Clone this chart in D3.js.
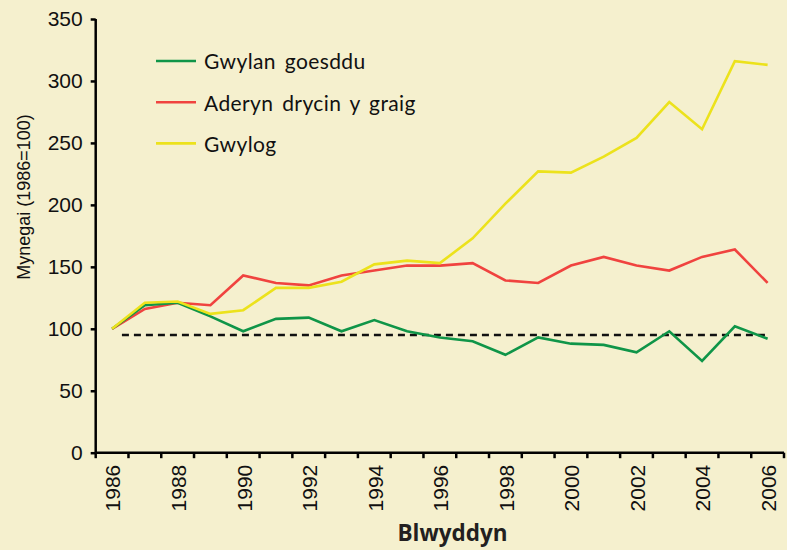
<!DOCTYPE html>
<html><head><meta charset="utf-8">
<script src="https://cdn.jsdelivr.net/npm/d3@7"></script>
<style>
html,body{margin:0;padding:0;background:#f5f0ce;}
svg{display:block;}
</style></head>
<body>
<svg id="chart" width="787" height="550"></svg>
<script>
const years = d3.range(1986, 2007);
const tickYears = [1986,1988,1990,1992,1994,1996,1998,2000,2002,2004,2006];
const yTicks = [0,50,100,150,200,250,300,350];
const seriesNames = ["Gwylan goesddu","Aderyn drycin y graig","Gwylog"];
const seriesColors = ["#0f9548","#f0433f","#ece21c"];
const kittiwake = [100,119,121,110,98,108,109,98,107,98,93,90,79,93,88,87,81,98,74,102,92];
const shearwater = [100,116,121,119,143,137,135,143,147,151,151,153,139,137,151,158,151,147,158,164,137];
const guillemot = [100,121,122,112,115,133,133,138,152,155,153,173,201,227,226,239,254,283,261,316,313];
const baselineValue = 95;
const baselineYears = [1986.3, 2006];
const yTitle = "Mynegai (1986=100)";
const xTitle = "Blwyddyn";

const svg = d3.select("#chart");
const W = 787, H = 550;
svg.append("rect").attr("width",W).attr("height",H).attr("fill","#f5f0ce");

const x = d3.scaleBand().domain(years).range([95.7, 784]).paddingInner(0).paddingOuter(0);
const xc = d => x(d) + x.bandwidth()/2;
const xLin = d3.scaleLinear().domain([1986, 2006]).range([xc(1986), xc(2006)]);
const y = d3.scaleLinear().domain([0,350]).range([452.7, 19]);

// y axis
const yAxis = d3.axisLeft(y).tickValues(yTicks).tickSize(5).tickPadding(8);
const gy = svg.append("g").attr("transform","translate(95.7,0)").call(yAxis);
gy.select(".domain").attr("stroke","#000").attr("stroke-width",2.5).attr("d","M0,"+y(350)+"V"+y(0));
gy.selectAll(".tick line").attr("stroke","#000").attr("stroke-width",2.5);
gy.selectAll(".tick text").attr("font-family","'Liberation Sans', Arial, sans-serif").attr("font-size",21).attr("fill","#111");

// x axis: ticks at band boundaries
const boundaries = years.map(d => x(d)).concat([x(2006)+x.bandwidth()]);
const gx = svg.append("g");
gx.append("line").attr("x1",95.7).attr("x2",x(2006)+x.bandwidth()).attr("y1",y(0)).attr("y2",y(0))
  .attr("stroke","#000").attr("stroke-width",2.5);
gx.selectAll("line.tk").data(boundaries).join("line").attr("class","tk")
  .attr("x1",d=>d).attr("x2",d=>d).attr("y1",y(0)).attr("y2",y(0)+5.5)
  .attr("stroke","#000").attr("stroke-width",2.5);
gx.selectAll("text.tl").data(tickYears).join("text").attr("class","tl")
  .attr("transform",d=>`translate(${xc(d)+1},${y(0)+12}) rotate(-90)`)
  .attr("text-anchor","end").attr("dy","0.35em")
  .attr("font-family","'Liberation Sans', Arial, sans-serif").attr("font-size",21).attr("fill","#111")
  .text(d=>d);

// baseline dashed
svg.append("line").attr("x1",xLin(baselineYears[0])).attr("x2",xLin(baselineYears[1]))
  .attr("y1",y(baselineValue)).attr("y2",y(baselineValue))
  .attr("stroke","#111").attr("stroke-width",2.6).attr("stroke-dasharray","7,5");

// lines
const line = d3.line().x((d,i)=>xc(years[i])).y(d=>y(d));
const data = [kittiwake, shearwater, guillemot];
[1,0,2].forEach(i=>{
  svg.append("path").datum(data[i]).attr("d",line).attr("fill","none")
    .attr("stroke",seriesColors[i]).attr("stroke-width",2.6).attr("stroke-linejoin","miter");
});
// legend
const leg = svg.append("g");
seriesNames.forEach((n,i)=>{
  const ly = 61 + i*41.2;
  leg.append("line").attr("x1",156).attr("x2",196).attr("y1",ly).attr("y2",ly)
    .attr("stroke",seriesColors[i]).attr("stroke-width",2.6);
  leg.append("text").attr("x",204).attr("y",ly+1).attr("dy","0.35em")
    .attr("font-family","Lato, 'Open Sans', sans-serif").attr("font-size",21).attr("fill","#111")
    .attr("letter-spacing",0.4).attr("word-spacing",3)
    .text(n);
});

// titles
svg.append("text").attr("transform",`translate(24,197) rotate(-90)`).attr("text-anchor","middle")
  .attr("dy","0.35em").attr("font-family","'Liberation Sans', Arial, sans-serif").attr("font-size",18).attr("fill","#111")
  .text(yTitle);
svg.append("text").attr("x",452.5).attr("y",540.7).attr("text-anchor","middle")
  .attr("font-family","'Open Sans', Lato, sans-serif").attr("font-weight","bold").attr("font-size",22.5).attr("fill","#231f20")
  .text(xTitle);
</script>
</body></html>
